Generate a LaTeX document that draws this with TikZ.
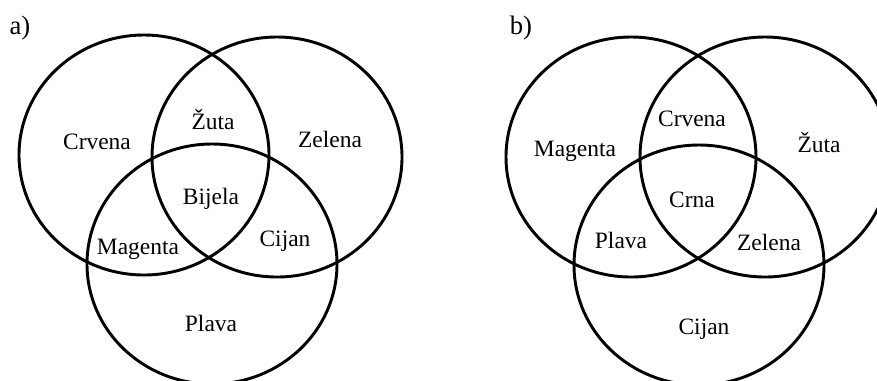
\documentclass[tikz,border=0pt]{standalone}
\usepackage{fontspec}
\setmainfont{Liberation Serif}
\begin{document}
\begin{tikzpicture}[x=0.75pt, y=-0.75pt, line width=2.2pt, line join=round, line cap=round, font=\fontsize{17.6}{21}\selectfont,
		tag/.style={font=\fontsize{20}{24}\selectfont}]
			\def\rx{125}\def\ry{120}
			\useasboundingbox (0,0) rectangle (877,380);
			\clip (0,0) rectangle (877,380);
			% a) aditivno mijesanje
			\coordinate (a1) at (144,155);
			\coordinate (a2) at (277,157);
			\coordinate (a3) at (212,264);
			% b) suptraktivno mijesanje
			\coordinate (b1) at (631,157);
			\coordinate (b2) at (765,157);
			\coordinate (b3) at (699,265);
			\foreach \c in {a1,a2,a3,b1,b2,b3} \draw (\c) ellipse [x radius=\rx, y radius=\ry];
			\node[tag] (la) at (20,28) {a)};
			\node (crvenaA) at (97,142) {Crvena};
			\node (zutaA) at (213,120) {Žuta};
			\node (zelenaA) at (330,139) {Zelena};
			\node (bijelaA) at (211,199) {Bijela};
			\node (magentaA) at (138,249) {Magenta};
			\node (cijanA) at (285,241) {Cijan};
			\node (plavaA) at (211,323) {Plava};
			\node[tag] (lb) at (521,28) {b)};
			\node (magentaB) at (575,151) {Magenta};
			\node (crvenaB) at (692,119) {Crvena};
			\node (zutaB) at (819,143) {Žuta};
			\node (crnaB) at (692,200) {Crna};
			\node (plavaB) at (621,240) {Plava};
			\node (zelenaB) at (769,242) {Zelena};
			\node (cijanB) at (704,329) {Cijan};
		\end{tikzpicture}
\end{document}
